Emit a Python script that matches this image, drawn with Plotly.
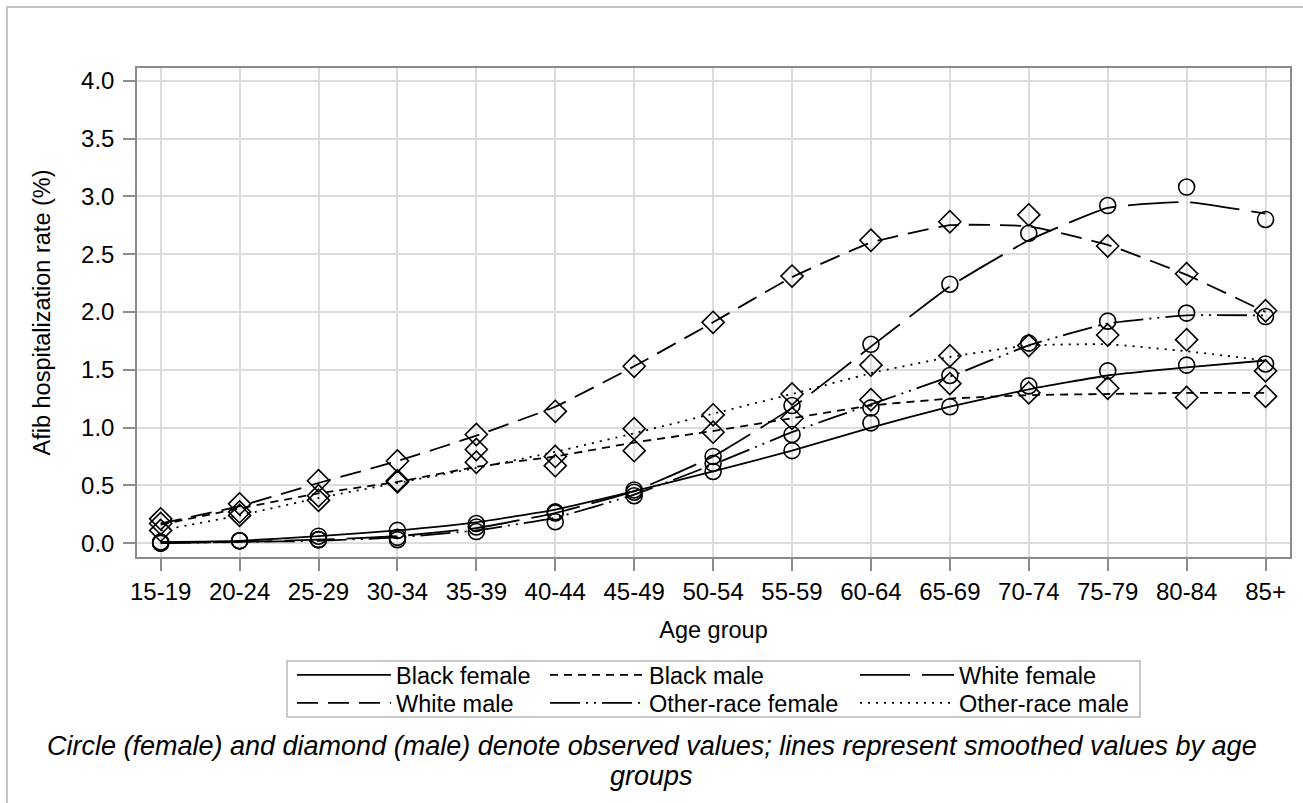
import plotly.graph_objects as go

age_groups = ["15-19", "20-24", "25-29", "30-34", "35-39", "40-44", "45-49", "50-54",
              "55-59", "60-64", "65-69", "70-74", "75-79", "80-84", "85+"]

# observed values (markers)
black_female_obs = [0.01, 0.02, 0.06, 0.11, 0.17, 0.27, 0.44, 0.62, 0.80, 1.04, 1.18, 1.36, 1.49, 1.54, 1.55]
black_male_obs = [0.17, 0.27, 0.41, 0.53, 0.70, 0.67, 0.80, 0.96, 1.08, 1.24, 1.38, 1.30, 1.34, 1.26, 1.27]
white_female_obs = [0.00, 0.02, 0.03, 0.05, 0.14, 0.26, 0.46, 0.75, 1.19, 1.72, 2.24, 2.68, 2.92, 3.08, 2.80]
white_male_obs = [0.21, 0.34, 0.54, 0.71, 0.94, 1.14, 1.53, 1.91, 2.31, 2.62, 2.78, 2.84, 2.57, 2.33, 2.01]
other_female_obs = [0.00, 0.02, 0.03, 0.03, 0.10, 0.185, 0.41, 0.69, 0.94, 1.17, 1.45, 1.73, 1.92, 1.99, 1.96]
other_male_obs = [0.11, 0.24, 0.37, 0.54, 0.81, 0.75, 0.99, 1.11, 1.29, 1.54, 1.62, 1.71, 1.80, 1.76, 1.49]

# smoothed values (lines)
black_female_fit = [0.01, 0.02, 0.06, 0.11, 0.18, 0.29, 0.45, 0.62, 0.80, 1.00, 1.18, 1.33, 1.45, 1.52, 1.58]
black_male_fit = [0.16, 0.30, 0.43, 0.53, 0.66, 0.75, 0.87, 0.97, 1.08, 1.19, 1.25, 1.28, 1.29, 1.30, 1.30]
white_female_fit = [0.00, 0.01, 0.03, 0.06, 0.13, 0.26, 0.45, 0.75, 1.17, 1.70, 2.22, 2.62, 2.90, 2.95, 2.85]
white_male_fit = [0.17, 0.32, 0.52, 0.71, 0.93, 1.18, 1.53, 1.91, 2.30, 2.60, 2.75, 2.74, 2.58, 2.32, 2.00]
other_female_fit = [0.00, 0.01, 0.02, 0.05, 0.11, 0.22, 0.42, 0.68, 0.96, 1.20, 1.44, 1.71, 1.90, 1.97, 1.97]
other_male_fit = [0.11, 0.24, 0.39, 0.52, 0.65, 0.79, 0.95, 1.12, 1.29, 1.47, 1.61, 1.71, 1.72, 1.66, 1.58]

y_ticks = [0.0, 0.5, 1.0, 1.5, 2.0, 2.5, 3.0, 3.5, 4.0]

FONT = "Liberation Sans, Arial, sans-serif"
FS = 23.5
TICK_FS = 24
CAP_FS = 27

L, R, T, B = 137, 13, 68, 246
W, H = 1303, 803
pw = W - L - R
ph = H - T - B


def px_x(px):
    return (px - L) / pw


def px_y(py):
    return (H - B - py) / ph


# legend layout: (column sample start px, row centre px)
COL_X = [297, 550, 860]
ROW_Y = [675, 703]

series = [
    ("Black female", black_female_obs, black_female_fit, "solid", "circle-open", 0, 0),
    ("Black male", black_male_obs, black_male_fit, "8px,6px", "diamond-open", 1, 0),
    ("White female", white_female_obs, white_female_fit, "50px,12px", "circle-open", 2, 0),
    ("White male", white_male_obs, white_male_fit, "21px,10px", "diamond-open", 0, 1),
    ("Other-race female", other_female_obs, other_female_fit, "30px,6px,2px,6px,2px,6px", "circle-open", 1, 1),
    ("Other-race male", other_male_obs, other_male_fit, "2px,6px", "diamond-open", 2, 1),
]

xi = list(range(len(age_groups)))

fig = go.Figure()
legend_layouts = {}
for k, (name, obs, fit, dash, sym, col, row) in enumerate(series):
    leg = "legend" if k == 0 else f"legend{k + 1}"
    fig.add_trace(go.Scatter(
        x=xi, y=fit, mode="lines", name=name, legend=leg,
        line=dict(color="black", width=1.8, dash=dash, shape="spline", smoothing=0.4),
    ))
    legend_layouts[leg] = dict(
        x=px_x(COL_X[col] - 5), y=px_y(ROW_Y[row] - 22),
        orientation="v", yanchor="top", xanchor="left",
        font=dict(family=FONT, size=FS, color="black"),
        bgcolor="rgba(0,0,0,0)", borderwidth=0, itemwidth=94,
    )
for name, obs, fit, dash, sym, col, row in series:
    fig.add_trace(go.Scatter(
        x=xi, y=obs, mode="markers", name=name + " (observed)", showlegend=False,
        marker=dict(symbol=sym, size=16 if sym.startswith("circle") else 17,
                    color="black", line=dict(color="black", width=1.6)),
    ))

fig.update_layout(
    width=W, height=H,
    margin=dict(l=L, r=R, t=T, b=B, autoexpand=False),
    paper_bgcolor="white", plot_bgcolor="white",
    font=dict(family=FONT, size=FS, color="black"),
    showlegend=True,
    xaxis=dict(
        range=[-0.3, 14.31], tickmode="array", tickvals=xi, ticktext=age_groups,
        showgrid=True, gridcolor="#dcdcdc", gridwidth=1.5,
        showline=True, linecolor="#8c8c8c", linewidth=1.5, mirror=True,
        ticks="outside", ticklen=12, tickcolor="#8c8c8c", tickwidth=1.5,
        tickfont=dict(family=FONT, size=TICK_FS, color="black"),
        title=dict(text="Age group", font=dict(family=FONT, size=FS, color="black"), standoff=18),
        zeroline=False, automargin=False,
    ),
    yaxis=dict(
        range=[-0.12, 4.11], tickmode="array", tickvals=y_ticks,
        ticktext=[f"{v:.1f}" for v in y_ticks],
        showgrid=True, gridcolor="#dcdcdc", gridwidth=1.5,
        showline=True, linecolor="#8c8c8c", linewidth=1.5, mirror=True,
        ticks="outside", ticklen=12, tickcolor="#8c8c8c", tickwidth=1.5,
        ticklabelstandoff=4,
        tickfont=dict(family=FONT, size=TICK_FS, color="black"),
        title=dict(text="Afib hospitalization rate (%)", font=dict(family=FONT, size=FS, color="black"), standoff=24),
        zeroline=False, automargin=False,
    ),
    shapes=[
        # outer border
        dict(type="rect", xref="paper", yref="paper",
             x0=px_x(7), x1=px_x(1320), y0=px_y(820), y1=px_y(7),
             line=dict(color="#c4c4c4", width=2), fillcolor="rgba(0,0,0,0)", layer="below"),
        # legend box
        dict(type="rect", xref="paper", yref="paper",
             x0=px_x(287), x1=px_x(1140), y0=px_y(717), y1=px_y(661),
             line=dict(color="#b8b8b8", width=1.5), fillcolor="rgba(0,0,0,0)"),
    ],
    annotations=[
        dict(xref="paper", yref="paper", x=px_x(651.5), y=px_y(746),
             xanchor="center", yanchor="middle", showarrow=False,
             text="<i>Circle (female) and diamond (male) denote observed values; lines represent smoothed values by age</i>",
             font=dict(family=FONT, size=CAP_FS, color="black")),
        dict(xref="paper", yref="paper", x=px_x(651.5), y=px_y(776),
             xanchor="center", yanchor="middle", showarrow=False,
             text="<i>groups</i>",
             font=dict(family=FONT, size=CAP_FS, color="black")),
    ],
)
fig.update_layout(**legend_layouts)

fig.write_html("out.html", config={"displayModeBar": False},
               post_script="document.body.style.margin='0px';")
